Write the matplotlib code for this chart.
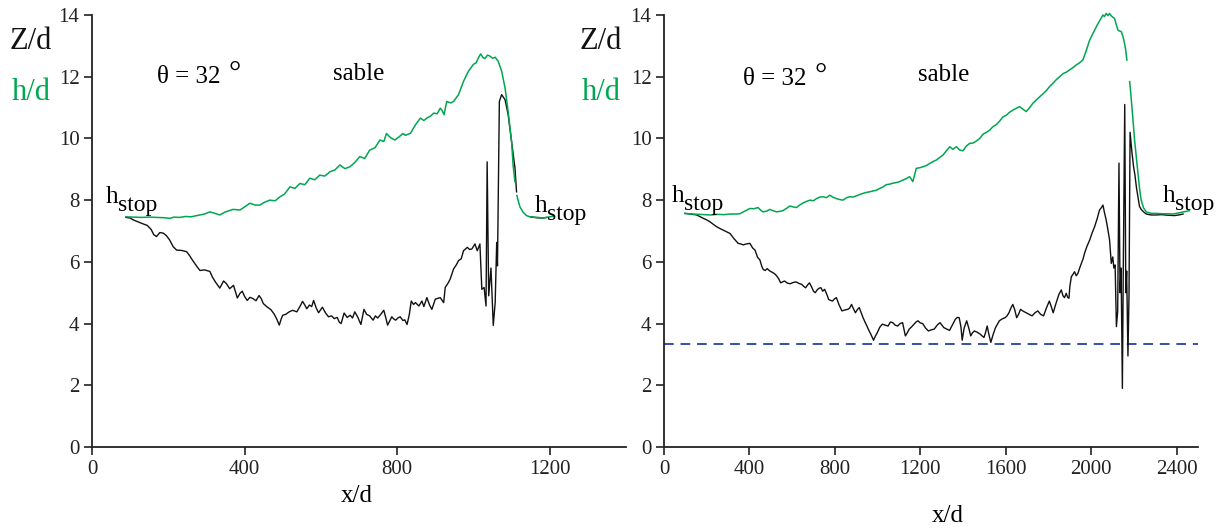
import numpy as np
import matplotlib
matplotlib.use("Agg")
import matplotlib.pyplot as plt

plt.rcParams['font.family'] = ['Liberation Serif', 'DejaVu Serif']

nan = np.nan

# ---- panneau gauche ----
xg_left = [89, 110, 130, 150, 170, 190, 204, 215, 230, 245, 260, 283, 295, 309, 320, 335, 350, 370, 388, 400,
           414, 428, 440, 452, 466, 480, 493, 505, 519, 532, 545, 558, 571, 584, 597, 610, 624, 637, 650, 663,
           676, 689, 702, 715, 728, 742, 755, 765, 772, 783, 794, 805, 815, 822, 835, 848, 861, 870, 878, 887,
           896, 905, 913, 918, 923, 930, 940, 948, 961, 974, 987, 1000, 1007, 1013, 1019, 1025, 1030, 1037, 1043, 1050,
           1057, 1065, 1074, 1083, 1091, 1100, 1104, 1109, 1111, 1114, 1118, 1122, 1130, 1139, 1148, 1157, 1170, 1183, 1196, 1209]
hg_left = [7.46, 7.45, 7.44, 7.45, 7.44, 7.43, 7.41, 7.45, 7.44, 7.47, 7.46, 7.52, 7.55, 7.62, 7.58, 7.52, 7.62, 7.70, 7.68, 7.78,
           7.90, 7.84, 7.84, 7.93, 8.00, 7.98, 8.11, 8.20, 8.43, 8.38, 8.54, 8.50, 8.71, 8.66, 8.81, 8.78, 8.92, 8.98, 9.14, 9.02,
           9.08, 9.22, 9.41, 9.35, 9.62, 9.70, 9.95, 9.90, 10.16, 10.02, 9.95, 10.05, 10.16, 10.10, 10.17, 10.44, 10.66, 10.58, 10.66, 10.72,
           10.82, 10.80, 10.98, 10.90, 10.77, 11.20, 11.15, 11.20, 11.42, 11.85, 12.18, 12.40, 12.45, 12.61, 12.74, 12.62, 12.59, 12.70, 12.67, 12.60,
           12.63, 12.50, 12.18, 11.63, 10.87, 9.90, 9.13, 8.59, nan, 8.15, 7.95, 7.78, 7.61, 7.50, 7.46, 7.45, 7.44, 7.42, 7.45, 7.48]

xz_left = [89, 100, 108, 120, 134, 145, 155, 162, 169, 178, 187, 195, 203, 213, 222, 235, 248, 256, 261, 267,
           275, 283, 295, 309, 316, 324, 335, 345, 352, 361, 371, 381, 388, 394, 400, 407, 414, 422, 430, 438,
           444, 449, 458, 469, 477, 485, 491, 496, 500, 508, 517, 526, 537, 545, 552, 558, 563, 570, 576, 581,
           588, 594, 604, 612, 620, 628, 635, 643, 648, 653, 661, 669, 677, 683, 689, 697, 705, 713, 720, 728,
           737, 743, 749, 757, 765, 770, 775, 781, 786, 791, 796, 802, 808, 815, 820, 826, 832, 837, 843, 848,
           857, 865, 870, 878, 885, 891, 900, 907, 913, 922, 926, 933, 939, 948, 955, 961, 968, 974, 984, 990,
           996, 1004, 1010, 1017, 1022, 1028, 1033, 1036, 1040, 1046, 1052, 1057, 1061, 1063, 1068, 1074, 1083, 1091, 1100, 1109,
           1113, 1130, 1150, 1165, 1180, 1192]
zd_left = [7.44, 7.42, 7.36, 7.30, 7.23, 7.18, 7.05, 6.88, 6.82, 6.95, 6.93, 6.85, 6.72, 6.49, 6.38, 6.37, 6.33, 6.20, 6.10, 5.99,
           5.85, 5.72, 5.74, 5.69, 5.50, 5.34, 5.15, 5.38, 5.30, 5.13, 5.24, 4.83, 4.98, 5.05, 4.88, 4.75, 4.85, 4.81, 4.74, 4.91,
           4.80, 4.65, 4.55, 4.45, 4.32, 4.13, 3.95, 4.15, 4.27, 4.30, 4.38, 4.43, 4.38, 4.55, 4.72, 4.60, 4.48, 4.60, 4.55, 4.75,
           4.50, 4.35, 4.53, 4.35, 4.22, 4.25, 4.16, 4.20, 4.05, 4.00, 4.34, 4.20, 4.27, 4.18, 4.38, 4.20, 3.97, 4.46, 4.30, 4.25,
           4.11, 4.25, 4.18, 4.30, 4.43, 4.20, 3.95, 4.10, 4.22, 4.15, 4.11, 4.18, 4.22, 4.10, 4.12, 3.97, 4.30, 4.73, 4.62, 4.68,
           4.57, 4.73, 4.55, 4.84, 4.60, 4.46, 4.79, 4.82, 4.84, 4.68, 5.17, 5.30, 5.44, 5.77, 5.90, 6.04, 6.10, 6.36, 6.47, 6.40,
           6.42, 6.58, 6.36, 6.58, 5.11, 5.17, 4.57, 9.24, 4.90, 5.80, 3.94, 4.68, 6.63, 5.87, 11.20, 11.42, 11.25, 10.77, 9.90, 9.03,
           8.27, nan, 7.46, 7.43, 7.42, 7.44]

# ---- panneau droit ----
xg_right = [98, 130, 160, 190, 220, 250, 280, 310, 340, 355, 380, 402, 420, 440, 452, 463, 480, 495, 510, 527,
            545, 557, 575, 589, 605, 620, 635, 651, 668, 683, 700, 714, 730, 745, 760, 776, 790, 807, 822, 838,
            855, 870, 885, 901, 915, 932, 948, 963, 980, 994, 1010, 1026, 1040, 1057, 1072, 1088, 1103, 1118, 1135, 1150,
            1165, 1181, 1197, 1212, 1228, 1244, 1260, 1275, 1290, 1306, 1322, 1338, 1352, 1369, 1385, 1400, 1415, 1431, 1447, 1463,
            1478, 1494, 1510, 1525, 1540, 1556, 1570, 1587, 1602, 1618, 1634, 1650, 1665, 1680, 1696, 1712, 1727, 1743, 1759, 1775,
            1790, 1805, 1820, 1836, 1852, 1868, 1884, 1899, 1915, 1930, 1945, 1961, 1977, 1993, 2008, 2024, 2040, 2055, 2062, 2070,
            2078, 2086, 2097, 2109, 2117, 2125, 2133, 2141, 2149, 2156, 2162, 2167, 2173, 2180, 2186, 2192, 2198, 2203, 2211, 2219,
            2226, 2234, 2245, 2258, 2275, 2290, 2305, 2330, 2355, 2380, 2398, 2420, 2440, 2460]
hg_right = [7.57, 7.55, 7.54, 7.53, 7.52, 7.54, 7.53, 7.55, 7.55, 7.56, 7.65, 7.73, 7.72, 7.76, 7.68, 7.62, 7.64, 7.70, 7.66, 7.62,
            7.64, 7.66, 7.74, 7.81, 7.78, 7.76, 7.84, 7.91, 7.96, 8.00, 7.98, 8.05, 8.10, 8.11, 8.08, 8.16, 8.10, 8.05, 8.02, 8.00,
            8.08, 8.11, 8.10, 8.14, 8.18, 8.22, 8.25, 8.27, 8.30, 8.32, 8.38, 8.43, 8.50, 8.52, 8.55, 8.57, 8.60, 8.65, 8.70, 8.76,
            8.60, 9.03, 9.05, 9.08, 9.12, 9.19, 9.25, 9.30, 9.38, 9.46, 9.60, 9.73, 9.65, 9.73, 9.62, 9.60, 9.75, 9.84, 9.85, 9.92,
            10.00, 10.14, 10.20, 10.27, 10.38, 10.45, 10.55, 10.70, 10.75, 10.85, 10.92, 10.98, 11.03, 10.95, 10.87, 11.00, 11.14, 11.25, 11.35, 11.45,
            11.55, 11.68, 11.78, 11.90, 12.00, 12.10, 12.15, 12.22, 12.30, 12.38, 12.45, 12.54, 12.85, 13.19, 13.40, 13.62, 13.82, 14.00, 13.95, 14.05,
            13.98, 14.05, 13.95, 13.89, 13.70, 13.51, 13.48, 13.46, 13.30, 13.08, 12.85, 12.54, nan, 11.84, 11.40, 10.92, 10.40, 9.95, 9.40, 8.87,
            8.40, 8.00, 7.75, 7.62, 7.58, 7.57, 7.57, 7.56, 7.56, 7.55, 7.57, 7.60, 7.63, 7.66]

xz_right = [98, 125, 153, 170, 184, 200, 215, 230, 246, 262, 277, 293, 309, 328, 347, 360, 371, 385, 402, 415,
            426, 438, 449, 458, 465, 474, 483, 496, 510, 520, 528, 537, 546, 555, 564, 578, 591, 604, 618, 632,
            645, 655, 663, 672, 681, 690, 700, 708, 718, 727, 735, 743, 752, 762, 771, 780, 789, 798, 807, 820,
            833, 846, 860, 869, 878, 887, 896, 905, 914, 923, 932, 941, 950, 959, 968, 975, 981, 990, 999, 1010,
            1022, 1035, 1049, 1060, 1071, 1082, 1094, 1105, 1117, 1124, 1130, 1139, 1148, 1160, 1171, 1180, 1189, 1200, 1211, 1225,
            1238, 1252, 1265, 1279, 1292, 1301, 1310, 1324, 1337, 1350, 1364, 1373, 1382, 1390, 1396, 1405, 1417, 1427, 1436, 1444,
            1453, 1466, 1480, 1489, 1498, 1505, 1513, 1521, 1530, 1541, 1552, 1561, 1570, 1583, 1597, 1606, 1615, 1624, 1633, 1642,
            1651, 1660, 1669, 1682, 1696, 1710, 1723, 1737, 1750, 1763, 1777, 1790, 1804, 1813, 1822, 1835, 1849, 1860, 1868, 1875,
            1883, 1890, 1896, 1900, 1907, 1915, 1922, 1930, 1938, 1946, 1954, 1962, 1969, 1980, 1993, 2005, 2016, 2028, 2039, 2047,
            2055, 2062, 2070, 2078, 2086, 2094, 2101, 2106, 2112, 2118, 2124, 2130, 2135, 2140, 2146, 2150, 2157, 2162, 2166, 2172,
            2177, 2182, 2190, 2198, 2205, 2212, 2219, 2226, 2234, 2245, 2258, 2280, 2305, 2330, 2360, 2390, 2410, 2430]
zd_right = [7.57, 7.55, 7.52, 7.46, 7.41, 7.36, 7.30, 7.22, 7.14, 7.08, 7.03, 6.98, 6.92, 6.75, 6.60, 6.58, 6.55, 6.58, 6.60, 6.45,
            6.38, 6.15, 6.06, 5.85, 5.75, 5.72, 5.78, 5.70, 5.65, 5.60, 5.54, 5.45, 5.32, 5.35, 5.38, 5.31, 5.29, 5.33, 5.35, 5.30,
            5.27, 5.20, 5.16, 5.25, 5.32, 5.20, 5.05, 5.00, 5.10, 5.15, 5.16, 5.05, 5.11, 4.95, 4.78, 4.75, 4.73, 4.80, 4.84, 4.60,
            4.41, 4.44, 4.46, 4.50, 4.62, 4.48, 4.35, 4.45, 4.52, 4.35, 4.19, 4.05, 3.92, 3.78, 3.66, 3.55, 3.46, 3.60, 3.71, 3.88,
            3.98, 3.95, 3.92, 4.05, 4.03, 3.95, 3.92, 4.00, 4.03, 3.80, 3.60, 3.70, 3.82, 3.90, 3.98, 4.05, 4.09, 4.02, 4.00, 3.85,
            3.76, 3.80, 3.82, 3.95, 4.03, 3.95, 3.87, 3.82, 3.78, 3.95, 4.14, 4.20, 4.19, 3.90, 3.46, 3.85, 4.09, 3.85, 3.60, 3.70,
            3.76, 3.72, 3.66, 3.60, 3.55, 3.70, 3.92, 3.65, 3.39, 3.65, 3.87, 3.98, 4.09, 4.15, 4.19, 4.25, 4.35, 4.50, 4.62, 4.45,
            4.19, 4.30, 4.46, 4.40, 4.35, 4.30, 4.25, 4.35, 4.41, 4.30, 4.25, 4.50, 4.73, 4.55, 4.35, 4.65, 4.95, 5.09, 4.90, 4.84,
            4.98, 4.85, 4.82, 5.20, 5.52, 5.60, 5.68, 5.55, 5.63, 5.80, 5.95, 6.10, 6.28, 6.50, 6.71, 6.95, 7.14, 7.40, 7.68, 7.75,
            7.84, 7.60, 7.36, 7.05, 6.71, 5.95, 6.16, 5.80, 5.90, 3.90, 4.40, 9.20, 5.00, 5.80, 1.90, 5.60, 11.10, 5.00, 5.70, 2.95,
            4.90, 10.20, 9.60, 9.10, 8.80, 8.40, 8.10, 7.80, 7.70, 7.62, 7.55, 7.52, 7.52, 7.53, 7.51, 7.50, 7.52, 7.55]

z_limit = 3.33  # ligne pointillée (panneau droit)

W, H = 1223, 531
green = '#00a651'
blue = '#3451a8'


def fx(px):
    return px / W


def fy(py):
    return 1 - py / H


fig = plt.figure(figsize=(W / 100, H / 100), dpi=100)
ax1 = fig.add_axes([fx(92), fy(447), 534 / W, 432 / H])
ax2 = fig.add_axes([fx(664), fy(447), 534 / W, 432 / H])

ax1.plot(xz_left, zd_left, color='#111111', lw=1.0)
ax1.plot(xg_left, hg_left, color=green, lw=1.1)
ax1.set_xlim(0, 1400)
ax1.set_xticks([0, 400, 800, 1200])

ax2.axhline(z_limit, color=blue, lw=1.4, ls=(0, (5, 3.5)))
ax2.plot(xz_right, zd_right, color='#111111', lw=1.0)
ax2.plot(xg_right, hg_right, color=green, lw=1.1, clip_on=False)
ax2.set_xlim(0, 2500)
ax2.set_xticks([0, 400, 800, 1200, 1600, 2000, 2400])

for ax in (ax1, ax2):
    ax.set_ylim(0, 14)
    ax.set_yticks(range(0, 15, 2))
    for s in ('top', 'right'):
        ax.spines[s].set_visible(False)
    for s in ('left', 'bottom'):
        ax.spines[s].set_linewidth(1.3)
        ax.spines[s].set_color('#222222')
    ax.tick_params(direction='out', length=6, width=1.2, labelsize=15,
                   colors='#222222', pad=3)
    ax.patch.set_alpha(0)

# textes
for x0 in (31, 601):
    fig.text(fx(x0), fy(49), 'Z/d', fontsize=22, ha='center', va='baseline', color='#111111')
    fig.text(fx(x0), fy(100), 'h/d', fontsize=22, ha='center', va='baseline', color=green)

# theta = 32 degres
for x0, base in ((157, 83), (743, 85)):
    fig.text(fx(x0), fy(base), 'θ = 32', fontsize=18, ha='left', va='baseline')
    fig.text(fx(x0 + 72), fy(base - 1), '°', fontsize=22, ha='left', va='baseline')
fig.text(fx(333), fy(80), 'sable', fontsize=18, ha='left', va='baseline')
fig.text(fx(918), fy(81), 'sable', fontsize=18, ha='left', va='baseline')

# h_stop
for x0, base in ((106, 203), (535, 212), (672, 202), (1163, 202)):
    fig.text(fx(x0), fy(base), 'h', fontsize=18, ha='left', va='baseline')
    fig.text(fx(x0 + 12), fy(base + 8), 'stop', fontsize=17, ha='left', va='baseline')

fig.text(fx(357), fy(502), 'x/d', fontsize=18, ha='center', va='baseline')
fig.text(fx(948), fy(522), 'x/d', fontsize=18, ha='center', va='baseline')

fig.savefig('out.png', dpi=100)
